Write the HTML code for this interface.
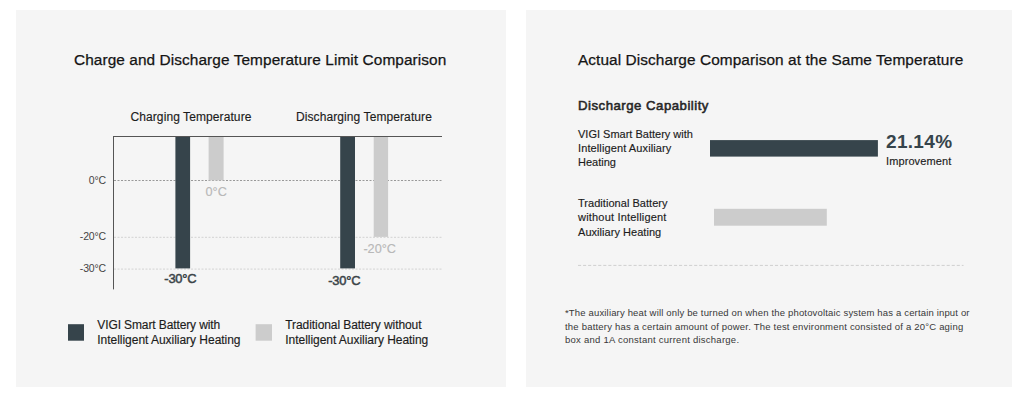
<!DOCTYPE html>
<html>
<head>
<meta charset="utf-8">
<style>
html,body{margin:0;padding:0;}
body{width:1012px;height:412px;background:#ffffff;position:relative;overflow:hidden;font-family:"Liberation Sans",sans-serif;color:#1a1a1a;}
.panel{position:absolute;background:#f5f5f5;}
#p1{left:16px;top:10px;width:490px;height:377px;}
#p2{left:526px;top:10px;width:486px;height:377px;}
.t{position:absolute;white-space:nowrap;line-height:1;}
.title{font-size:15.4px;color:#141414;letter-spacing:0.08px;-webkit-text-stroke:0.25px #141414;}
.sub{font-size:12px;color:#1c1c1c;letter-spacing:0.09px;-webkit-text-stroke:0.15px #1c1c1c;}
#g1,#g2,#r1,#r2,#imp{-webkit-text-stroke:0.15px #1c1c1c;}
.ax{font-size:10.5px;color:#444;letter-spacing:-0.15px;text-align:right;width:40px;}
.bl{font-size:12.5px;}
.fn{font-size:9.5px;color:#383838;}
.lt{color:#b8b8b8;font-size:12.7px;-webkit-text-stroke:0.15px #b8b8b8;}
.dk{color:#3a4348;font-size:12.9px;letter-spacing:-0.2px;-webkit-text-stroke:0.5px #3a4348;}
svg{position:absolute;left:0;top:0;}
</style>
</head>
<body>
<div class="panel" id="p1"></div>
<div class="panel" id="p2"></div>

<svg width="1012" height="412" viewBox="0 0 1012 412">
  <!-- grid lines -->
  <line x1="114" y1="180.5" x2="442" y2="180.5" stroke="#999999" stroke-width="1" stroke-dasharray="2 1.5"/>
  <line x1="114" y1="237.3" x2="442" y2="237.3" stroke="#d3d3d3" stroke-width="1" stroke-dasharray="2 1.5"/>
  <line x1="114" y1="269.1" x2="442" y2="269.1" stroke="#d3d3d3" stroke-width="1" stroke-dasharray="2 1.5"/>
  <!-- bars chart -->
  <rect x="175.4" y="136.5" width="14.7" height="131.9" fill="#36444b"/>
  <rect x="208.6" y="136.5" width="15" height="43.9" fill="#cccccc"/>
  <rect x="340.2" y="136.5" width="14.8" height="131.9" fill="#36444b"/>
  <rect x="373.7" y="136.5" width="14.4" height="100.4" fill="#cccccc"/>
  <!-- axis -->
  <line x1="113.5" y1="136" x2="113.5" y2="289.4" stroke="#555" stroke-width="1"/>
  <line x1="113" y1="136.5" x2="442" y2="136.5" stroke="#555" stroke-width="1"/>
  <!-- legend squares -->
  <rect x="68" y="324.2" width="16" height="16.5" fill="#36444b"/>
  <rect x="255.6" y="324.2" width="16.4" height="16.5" fill="#cccccc"/>
  <!-- right bars -->
  <rect x="710" y="140.1" width="167.9" height="16.5" fill="#36444b"/>
  <rect x="714" y="208.8" width="112.8" height="16.9" fill="#cccccc"/>
  <line x1="578" y1="265.4" x2="963.5" y2="265.4" stroke="#cfcfcf" stroke-width="1" stroke-dasharray="3.1 1.95"/>
</svg>

<!-- LEFT -->
<div class="t title" id="t1" style="left:74px;top:52px;">Charge and Discharge Temperature Limit Comparison</div>
<div class="t sub" id="s1" style="left:130.5px;top:111px;">Charging Temperature</div>
<div class="t sub" id="s2" style="left:296px;top:111px;">Discharging Temperature</div>

<div class="t ax" id="a0" style="left:66px;top:175px;">0°C</div>
<div class="t ax" id="a20" style="left:66px;top:231px;">-20°C</div>
<div class="t ax" id="a30" style="left:66px;top:263px;">-30°C</div>

<div class="t bl lt" id="l0" style="left:205.5px;top:186px;">0°C</div>
<div class="t bl lt" id="l20" style="left:363.4px;top:243px;">-20°C</div>
<div class="t bl dk" id="l30a" style="left:164.3px;top:273px;">-30°C</div>
<div class="t bl dk" id="l30b" style="left:328.2px;top:275px;">-30°C</div>

<!-- legend -->
<div class="t" id="g1" style="left:97.3px;top:318px;font-size:12px;line-height:15px;color:#1c1c1c;letter-spacing:-0.03px;"><span style="letter-spacing:-0.11px;">VIGI Smart Battery with</span><br>Intelligent Auxiliary Heating</div>
<div class="t" id="g2" style="left:285.3px;top:318px;font-size:12px;line-height:15px;color:#1c1c1c;letter-spacing:-0.04px;"><span style="letter-spacing:-0.08px;">Traditional Battery without</span><br>Intelligent Auxiliary Heating</div>

<!-- RIGHT -->
<div class="t title" id="t2" style="left:578px;top:52px;">Actual Discharge Comparison at the Same Temperature</div>
<div class="t" id="dc" style="left:578px;top:99px;font-size:13.2px;color:#262626;letter-spacing:0.5px;-webkit-text-stroke:0.55px #262626;">Discharge Capability</div>
<div class="t" id="r1" style="left:578px;top:127px;font-size:11px;line-height:14px;color:#1c1c1c;">VIGI Smart Battery with<br><span style="letter-spacing:0.11px;">Intelligent Auxiliary</span><br>Heating</div>
<div class="t" id="r2" style="left:578px;top:196px;font-size:11px;line-height:14.4px;letter-spacing:0.04px;color:#1c1c1c;">Traditional Battery<br><span style="letter-spacing:0.19px;">without Intelligent</span><br>Auxiliary Heating</div>
<div class="t" id="pct" style="left:886px;top:132px;font-size:19px;font-weight:bold;color:#36444b;letter-spacing:0.32px;">21.14%</div>
<div class="t" id="imp" style="left:886px;top:156px;font-size:11px;color:#1c1c1c;letter-spacing:0.1px;">Improvement</div>
<div class="t fn" id="fn1" style="left:565px;top:308px;letter-spacing:0.165px;">*The auxiliary heat will only be turned on when the photovoltaic system has a certain input or</div>
<div class="t fn" id="fn2" style="left:565px;top:322px;letter-spacing:0.205px;">the battery has a certain amount of power. The test environment consisted of a 20°C aging</div>
<div class="t fn" id="fn3" style="left:565px;top:335px;letter-spacing:0.25px;">box and 1A constant current discharge.</div>
</body>
</html>
